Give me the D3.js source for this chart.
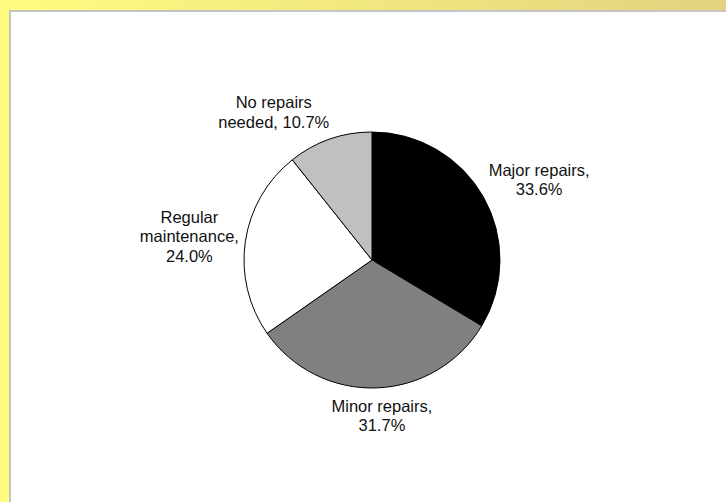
<!DOCTYPE html>
<html>
<head>
<meta charset="utf-8">
<script src="https://cdn.jsdelivr.net/npm/d3@7"></script>
<style>
  html, body { margin: 0; padding: 0; background: #fff; }
  svg { display: block; }
</style>
</head>
<body>
<svg id="chart" width="726" height="502"></svg>
<script>
// Condition of the housing stock, share of units
const categories = ["Major repairs", "Minor repairs", "Regular maintenance", "No repairs needed"];
const values = [33.6, 31.7, 24.0, 10.7];
const labelLines = [
  ["Major repairs,", "33.6%"],
  ["Minor repairs,", "31.7%"],
  ["Regular", "maintenance,", "24.0%"],
  ["No repairs", "needed, 10.7%"]
];
const fills = ["#000000", "#808080", "#ffffff", "#c0c0c0"];

const W = 726, H = 502;
const svg = d3.select("#chart");

// Yellow frame with a horizontal gradient
const defs = svg.append("defs");
const grad = defs.append("linearGradient").attr("id", "frameGrad")
  .attr("x1", "0%").attr("x2", "100%").attr("y1", "0%").attr("y2", "0%");
grad.append("stop").attr("offset", "0%").attr("stop-color", "#fffc80");
grad.append("stop").attr("offset", "100%").attr("stop-color", "#e3d27f");
svg.append("rect").attr("width", W).attr("height", H).attr("fill", "url(#frameGrad)");

// Plot panel with a thin grey edge
svg.append("rect").attr("x", 9).attr("y", 10).attr("width", W - 9).attr("height", H - 10).attr("fill", "#c4c4c4");
svg.append("rect").attr("x", 11).attr("y", 12).attr("width", W - 11).attr("height", H - 12).attr("fill", "#ffffff");

const cx = 372, cy = 260, r = 128;
const g = svg.append("g").attr("transform", `translate(${cx},${cy})`);

const pie = d3.pie().sort(null).value(d => d)(values);
const arc = d3.arc().innerRadius(0).outerRadius(r);

g.selectAll("path.slice").data(pie).join("path")
  .attr("class", "slice")
  .attr("d", arc)
  .attr("fill", (d, i) => fills[i])
  .attr("stroke", "#000")
  .attr("stroke-width", 1)
  .attr("stroke-linejoin", "round");

// Labels sit just outside the rim: each label box is pushed away from an
// anchor point on a slightly larger circle, by an amount that grows with
// how far the slice's middle direction points along that axis.
const fontSize = 16.5, lineH = 19.5, gap = 9;
const clamp01 = v => Math.max(0, Math.min(1, v));
const leanX = u => Math.sign(u) * 0.95 * clamp01(Math.abs(u) / 0.32);
const leanY = u => Math.sign(u) * clamp01((Math.abs(u) - 0.05) / 0.65);
pie.forEach((d, i) => {
  const a = (d.startAngle + d.endAngle) / 2;
  const ux = Math.sin(a), uy = -Math.cos(a);
  const t = g.append("text")
    .attr("font-family", "Liberation Sans, Arial, sans-serif")
    .attr("font-size", fontSize)
    .attr("fill", "#111")
    .attr("text-anchor", "middle");
  labelLines[i].forEach((s, k) => {
    t.append("tspan").attr("x", 0).attr("y", k * lineH).text(s);
  });
  const bb = t.node().getBBox();
  const w = bb.width, h = bb.height;
  const px = ux * (r + gap), py = uy * (r + gap);
  const bx = px + leanX(ux) * w / 2;
  const by = py + leanY(uy) * h / 2;
  t.attr("transform", `translate(${bx - (bb.x + w / 2)},${by - (bb.y + h / 2)})`);
});
</script>
</body>
</html>
